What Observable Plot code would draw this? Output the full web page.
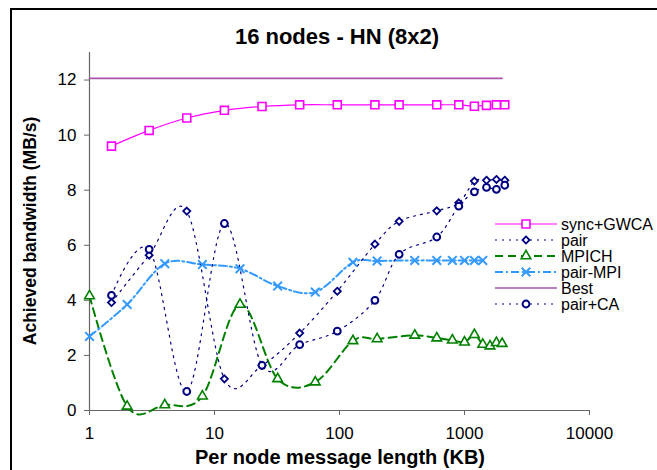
<!DOCTYPE html>
<html><head><meta charset="utf-8">
<script src="https://cdn.jsdelivr.net/npm/d3@7"></script>
<script src="https://cdn.jsdelivr.net/npm/@observablehq/plot@0.6"></script>
<style>
body{margin:0;background:#fff;font-family:Arial,"Liberation Sans",sans-serif;}
#wrap{position:relative;width:657px;height:470px;overflow:hidden;background:#fff;}
#border{position:absolute;left:10px;top:8px;width:700px;height:520px;border-top:2px solid #000;border-left:2px solid #000;}
#chart{position:absolute;left:0;top:0;}
.title{position:absolute;left:0;width:674px;top:24px;text-align:center;font-weight:bold;font-size:22px;line-height:26px;}
.xlab{position:absolute;left:0;width:680px;top:445px;text-align:center;font-weight:bold;font-size:20px;line-height:24px;}
.ylab{position:absolute;left:30px;top:231px;transform:translate(-50%,-50%) rotate(-90deg);white-space:nowrap;font-weight:bold;font-size:17.5px;line-height:24px;}
#legend{position:absolute;left:0;top:0;}
</style></head>
<body>
<div id="wrap">
  <div id="border"></div>
  <div id="chart"></div>
  <div class="title">16 nodes - HN (8x2)</div>
  <div class="ylab">Achieved bandwidth (MB/s)</div>
  <div class="xlab">Per node message length (KB)</div>
  <svg id="legend" width="657" height="470"></svg>
</div>
<script>
// ---- data ----
const xTicks = [1, 10, 100, 1000, 10000];
const yTicks = [0, 2, 4, 6, 8, 10, 12];

const gwcaX  = [1.5, 3, 6, 12, 24, 48, 96, 192, 300, 600, 900, 1200, 1500, 1800, 2100];
const gwcaY  = [9.6, 10.17, 10.62, 10.9, 11.04, 11.1, 11.1, 11.1, 11.1, 11.1, 11.1, 11.05, 11.08, 11.1, 11.1];

const pairX  = [1.5, 3, 6, 12, 24, 48, 96, 192, 300, 600, 900, 1200, 1500, 1800, 2100];
const pairY  = [3.92, 5.64, 7.24, 1.15, 1.64, 2.81, 4.33, 6.04, 6.87, 7.25, 7.54, 8.33, 8.36, 8.39, 8.36];

const pairCAX = [1.5, 3, 6, 12, 24, 48, 96, 192, 300, 600, 900, 1200, 1500, 1800, 2100];
const pairCAY = [4.18, 5.85, 0.69, 6.79, 1.64, 2.39, 2.88, 4.0, 5.67, 6.3, 7.42, 7.94, 8.1, 8.03, 8.18];

const mpichX = [1, 2, 4, 8, 16, 32, 64, 128, 200, 400, 600, 800, 1000, 1200, 1400, 1600, 1800, 2000];
const mpichY = [4.16, 0.15, 0.2, 0.52, 3.85, 1.15, 1.03, 2.53, 2.6, 2.73, 2.63, 2.55, 2.48, 2.75, 2.4, 2.34, 2.46, 2.43];

const pairMpiX = [1, 2, 4, 8, 16, 32, 64, 128, 200, 400, 600, 800, 1000, 1200, 1400];
const pairMpiY = [2.69, 3.85, 5.33, 5.3, 5.15, 4.52, 4.3, 5.38, 5.43, 5.45, 5.45, 5.45, 5.45, 5.45, 5.45];

const bestX = [1, 2, 4, 8, 16, 32, 64, 128, 200, 400, 600, 800, 1000, 1200, 1400, 1600, 1800, 2000];
const bestY = [12.06, 12.06, 12.06, 12.06, 12.06, 12.06, 12.06, 12.06, 12.06, 12.06, 12.06, 12.06, 12.06, 12.06, 12.06, 12.06, 12.06, 12.06];

const seriesNames = ["sync+GWCA", "pair", "MPICH", "pair-MPI", "Best", "pair+CA"];

// ---- styles ----
const S = {
  "sync+GWCA": {x: gwcaX, y: gwcaY, stroke: "#FF00FF", sw: 1.2, dash: null, symbol: "square", r: 4.5, msw: 1.6},
  "pair":      {x: pairX, y: pairY, stroke: "#000080", sw: 1.2, dash: "2,5", symbol: "diamond2", r: 3.2, msw: 1.8},
  "MPICH":     {x: mpichX, y: mpichY, stroke: "#008000", sw: 2, dash: "8,5", symbol: "triangle2", r: 4.6, msw: 1.6},
  "pair-MPI":  {x: pairMpiX, y: pairMpiY, stroke: "#3399FF", sw: 2, dash: "8,3,2,3", symbol: "times", r: 4, msw: 2},
  "Best":      {x: bestX, y: bestY, stroke: "#A855A8", sw: 1.6, dash: null, symbol: null},
  "pair+CA":   {x: pairCAX, y: pairCAY, stroke: "#000080", sw: 1.2, dash: "2,5", symbol: "circle", r: 3.4, msw: 2}
};

const rows = (xs, ys) => xs.map((x, i) => ({x, y: ys[i]}));

const marks = [
  Plot.axisX({ticks: xTicks, tickFormat: d => String(d), tickSize: 5, tickPadding: 11, label: null, stroke: "#666", fill: "#000"}),
  Plot.axisY({ticks: yTicks, tickSize: 5, tickPadding: 8, label: null, stroke: "#666", fill: "#000"}),
  Plot.ruleX([1], {stroke: "#666", strokeWidth: 1.2}),
  Plot.ruleY([0], {stroke: "#666", strokeWidth: 1.2})
];
const order = ["Best", "MPICH", "pair-MPI", "pair", "pair+CA", "sync+GWCA"];
for (const name of order) {
  const s = S[name];
  const d = rows(s.x, s.y);
  marks.push(Plot.line(d, {x: "x", y: "y", curve: "cardinal", stroke: s.stroke, strokeWidth: s.sw, strokeDasharray: s.dash || undefined}));
}
for (const name of order) {
  const s = S[name];
  if (!s.symbol) continue;
  const d = rows(s.x, s.y);
  marks.push(Plot.dot(d, {x: "x", y: "y", symbol: s.symbol, r: s.r, stroke: s.stroke, strokeWidth: s.msw, fill: "white"}));
}

const chart = Plot.plot({
  width: 657, height: 470,
  marginLeft: 89, marginRight: 68, marginTop: 52, marginBottom: 60,
  x: {type: "log", domain: [1, 10000]},
  y: {domain: [0, 13]},
  style: {fontFamily: "Arial, 'Liberation Sans', sans-serif", fontSize: "17px", color: "#000", background: "transparent"},
  marks
});
document.getElementById("chart").appendChild(chart);

// ---- legend ----
const lg = d3.select("#legend");
const symMap = {square: d3.symbolSquare, diamond2: d3.symbolDiamond2, triangle2: d3.symbolTriangle2, times: d3.symbolTimes, circle: d3.symbolCircle};
const rowY = [224, 240, 256, 272, 288, 304];
seriesNames.forEach((name, i) => {
  const s = S[name];
  const y = rowY[i];
  lg.append("line").attr("x1", 495).attr("x2", 557).attr("y1", y).attr("y2", y)
    .attr("stroke", s.stroke).attr("stroke-width", s.sw).attr("stroke-dasharray", s.dash);
  if (s.symbol) {
    lg.append("path").attr("transform", `translate(526,${y})`)
      .attr("d", d3.symbol(symMap[s.symbol], Math.PI * s.r * s.r)())
      .attr("fill", "white").attr("stroke", s.stroke).attr("stroke-width", s.msw);
  }
  lg.append("text").attr("x", 561).attr("y", y).attr("dy", "0.36em")
    .attr("font-size", 16).attr("font-family", "Arial, 'Liberation Sans', sans-serif").text(name);
});
</script>
</body></html>
